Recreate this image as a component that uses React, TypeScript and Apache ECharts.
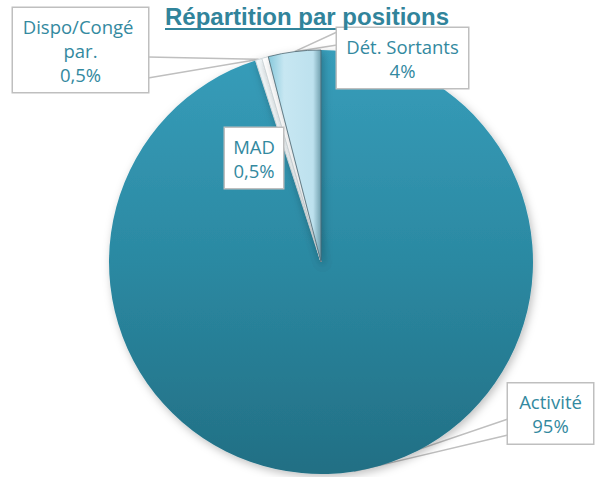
import React, { useEffect, useRef } from "react";
import * as echarts from "echarts";

// ---- Data ----
const categories = ["Activité", "Dispo/Congé par.", "MAD", "Dét. Sortants"];
const values = [95, 0.5, 0.5, 4];
const titleText = "Répartition par positions";

// ---- Layout / style (not data) ----
const CENTER: [number, number] = [321, 262];
const RADIUS = 212;
const TEAL_TEXT = "#31849b";
const LABEL_FONT = '"Open Sans", sans-serif';

// label box centres, content widths, paddings and callout base points
const labelBoxes = [
  { cx: 550.5, cy: 413.5, w: 69, padX: 8, base: [[508, 419], [508, 435]] },
  { cx: 80.5, cy: 50, w: 131, padX: 2, base: [[148, 57], [148, 78]] },
  { cx: 254, cy: 158, w: 42, padX: 8, base: [[260, 128], [281, 128]] },
  { cx: 402.5, cy: 58, w: 115, padX: 8, base: [[337, 32], [337, 45]] },
];

const sliceColors: any[] = [
  new echarts.graphic.LinearGradient(0, 0, 0, 1, [
    { offset: 0, color: "#379dba" },
    { offset: 0.5, color: "#2b89a2" },
    { offset: 1, color: "#226f84" },
  ]),
  "#f3f9fb",
  "#ffffff",
  new echarts.graphic.LinearGradient(0, 0, 1, 0, [
    { offset: 0, color: "#86c8db" },
    { offset: 0.3, color: "#c7e7f2" },
    { offset: 0.85, color: "#bde1ee" },
    { offset: 1, color: "#6f9fae" },
  ]),
];

function tipOf(index: number): [number, number] {
  const total = values.reduce((a, b) => a + b, 0);
  let cum = 0;
  for (let i = 0; i < index; i++) cum += values[i];
  const mid = ((cum + values[index] / 2) / total) * Math.PI * 2;
  return [CENTER[0] + RADIUS * Math.sin(mid), CENTER[1] - RADIUS * Math.cos(mid)];
}

export default function App() {
  const ref = useRef<HTMLDivElement>(null);

  useEffect(() => {
    if (!ref.current) return;
    const chart = echarts.init(ref.current, null, { renderer: "svg" });
    const data = categories.map((name, i) => ({
      name,
      value: values[i],
      itemStyle: {
        color: sliceColors[i],
        borderColor: i === 3 ? "rgba(70,95,105,0.75)" : i === 0 ? "rgba(0,0,0,0)" : "#d0d8db",
        borderWidth: i === 0 ? 0 : 1,
      },
      label: {
        width: labelBoxes[i].w,
        padding: [6, labelBoxes[i].padX],
        overflow: i === 1 ? "break" : "none",
      },
    }));

    chart.setOption({
      animation: false,
      backgroundColor: "#ffffff",
      title: {
        text: titleText,
        left: 165,
        top: 4,
        padding: 0,
        textStyle: {
          fontFamily: '"Liberation Sans", Arial, sans-serif',
          fontWeight: "bold",
          fontSize: 24,
          color: TEAL_TEXT,
        },
      },
      graphic: [
        {
          type: "rect",
          shape: { x: 165, y: 28, width: 282, height: 2 },
          style: { fill: TEAL_TEXT },
        },
      ],
      series: [
        {
          type: "pie",
          center: CENTER,
          radius: RADIUS,
          startAngle: 90,
          clockwise: true,
          avoidLabelOverlap: false,
          data,
          itemStyle: {
            shadowBlur: 8,
            shadowColor: "rgba(0,0,0,0.25)",
            shadowOffsetX: 2,
            shadowOffsetY: 3,
          },
          label: {
            show: true,
            position: "outside",
            formatter: (p: any) =>
              p.name + "\n" + String(p.value).replace(".", ",") + "%",
            color: "#3389a0",
            fontFamily: LABEL_FONT,
            fontSize: 18.5,
            lineHeight: 24,
            align: "center",
            backgroundColor: "#ffffff",
            borderColor: "#bfbfbf",
            borderWidth: 1.5,
          },
          labelLine: {
            show: true,
            lineStyle: { color: "#bfbfbf", width: 1.5 },
          },
          labelLayout: (params: any) => {
            const i = params.dataIndex;
            const b = labelBoxes[i];
            const tip = tipOf(i);
            return {
              x: b.cx,
              y: b.cy,
              align: "center",
              verticalAlign: "middle",
              labelLinePoints: [b.base[0], tip, b.base[1]],
            };
          },
        },
      ],
    });
    return () => chart.dispose();
  }, []);

  return (
    <div
      ref={ref}
      style={{ position: "fixed", left: 0, top: 0, width: 601, height: 477 }}
    />
  );
}
